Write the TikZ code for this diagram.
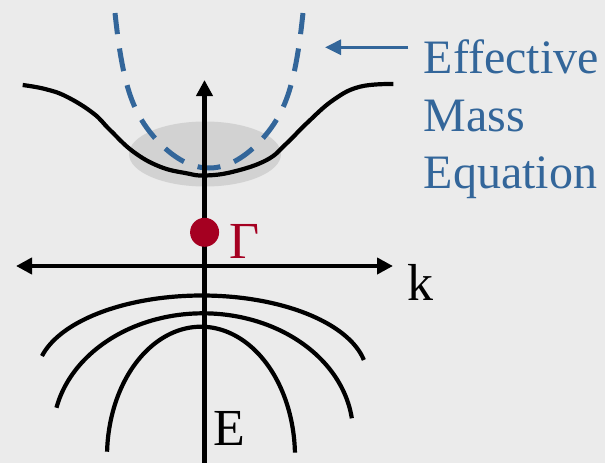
\documentclass[tikz,border=0pt]{standalone}
\usepackage{fontspec}
\setmainfont{Liberation Serif}
\usetikzlibrary{arrows.meta}
\definecolor{bgc}{RGB}{235,235,235}
\definecolor{blobc}{RGB}{210,210,210}
\definecolor{effblue}{RGB}{51,102,154}
\definecolor{gred}{RGB}{165,0,33}
\tikzset{
  band/.style={line width=4.2pt, black},
  axisline/.style={line width=4.3pt, black},
  dashblue/.style={line width=5pt, effblue, dash pattern=on 23pt off 14.5pt, dash phase=11.5pt},
  axtip/.tip={Triangle[length=16pt,width=16pt]},
  ptrtiptip/.tip={Triangle[length=16pt,width=15pt]},
  lbl/.style={inner sep=0pt, anchor=base west, font=\fontsize{52}{60}\selectfont},
  efftext/.style={inner sep=0pt, anchor=base west, text=effblue, font=\fontsize{48}{57}\selectfont}
}
\begin{document}
\begin{tikzpicture}[x=1pt,y=-1pt]
\useasboundingbox (0,0) rectangle (605,463);
\fill[bgc] (0,0) rectangle (605,463);
% shaded region near band minimum
\fill[blobc] (205,154) ellipse [x radius=76, y radius=32.5];
% conduction band
\draw[band] plot[smooth, tension=0.7] coordinates {(22.7,85) (45,89) (66.7,96.7) (93.3,113.3) (110,130) (133.3,151.7) (160,166.7) (186.7,173.3) (205,175.5) (233.3,171.7) (266.7,160) (286.7,143.3) (306.7,123.3) (333.3,100) (360,86.7) (393.3,84)};
% effective mass parabola (dashed)
\draw[dashblue] plot[domain=0:94, samples=80] ({209+\x},{168-(\x*\x/98+64.8*(abs(\x)/94)^11)});
\draw[dashblue] plot[domain=0:-94, samples=80] ({209+\x},{168-(\x*\x/98+64.8*(abs(\x)/94)^11)});
% valence bands
\draw[band] plot[domain=165.9:11.2, samples=90] ({202+165*cos(\x)},{375.5-80*sin(\x)});
\draw[band] plot[domain=167.7:7.2, samples=90] ({203+150*cos(\x)},{433.3-120*sin(\x)});
\draw[band] plot[domain=177.8:1.8, samples=90] ({201+94*cos(\x)},{456.7-130*sin(\x)});
% axes
\coordinate (ebot) at (204.5,463);
\coordinate (etop) at (204.5,80);
\coordinate (kleft) at (16,266);
\coordinate (kright) at (393,266);
\draw[axisline, -axtip] (ebot) -- (etop);
\draw[axisline, axtip-axtip] (kleft) -- (kright);
% Gamma point
\fill[gred] (204.6,232.3) circle [radius=14.5];
\node[lbl, text=gred] (gamma) at (229.5,258.3) {Γ};
\node[lbl] (klabel) at (407.5,300) {k};
\node[lbl] (elabel) at (213.5,445.7) {E};
% effective mass label and pointer
\node[efftext] (eff1) at (423.5,73.5) {Effective};
\node[efftext] (eff2) at (423.5,131.5) {Mass};
\node[efftext] (eff3) at (423.5,188.5) {Equation};
\coordinate (ptrstart) at (408.3,47.3);
\coordinate (ptrtip) at (325,47.3);
\draw[effblue, line width=3pt, -ptrtiptip] (ptrstart) -- (ptrtip);
\end{tikzpicture}
\end{document}
